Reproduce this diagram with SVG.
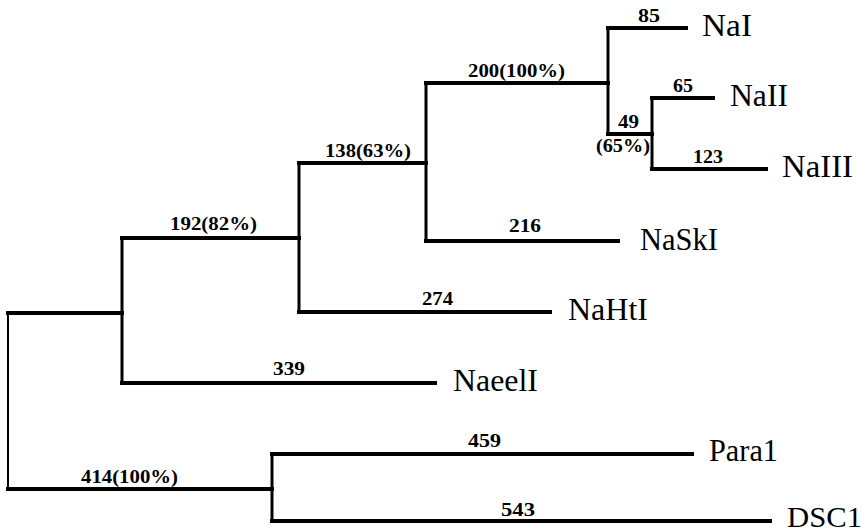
<svg xmlns="http://www.w3.org/2000/svg" width="867" height="532" viewBox="0 0 867 532">
<style>
.br{fill:none;stroke:#000;stroke-width:4;stroke-linecap:square}
.v{fill:none;stroke:#000;stroke-width:3}
.lbl{font-family:"Liberation Serif","Times New Roman",serif;font-size:19px;fill:#000;font-weight:bold}
.tx{font-family:"Liberation Serif","Times New Roman",serif;font-size:31px;fill:#000}
</style>
<rect width="867" height="532" fill="#fff"/>
<g id="connectors">
<path class="v" d="M8,313 V489" style="stroke-width:2"/>
<path class="br" d="M8,313 H122"/>
<path class="br" d="M8,489 H272"/>
<path class="v" d="M272,454 V522"/>
<path class="br" d="M272,454 H692"/>
<path class="br" d="M272,521 H770"/>
<path class="v" d="M122,238 V383"/>
<path class="br" d="M122,383 H435"/>
<path class="br" d="M122,238 H299"/>
<path class="v" d="M299,163 V312"/>
<path class="br" d="M299,312 H550"/>
<path class="br" d="M299,163 H426"/>
<path class="v" d="M426,83 V241"/>
<path class="br" d="M426,241 H618"/>
<path class="br" d="M426,83 H608"/>
<path class="v" d="M608,28 V134"/>
<path class="br" d="M608,28 H686"/>
<path class="br" d="M608,134 H652"/>
<path class="v" d="M652,98 V169"/>
<path class="br" d="M652,98 H713"/>
<path class="br" d="M652,169 H766"/>
</g>
<g id="branch-labels">
<text class="lbl" x="638" y="22" textLength="22" lengthAdjust="spacingAndGlyphs">85</text>
<text class="lbl" x="468" y="77" textLength="97" lengthAdjust="spacingAndGlyphs">200(100%)</text>
<text class="lbl" x="673" y="92" textLength="20" lengthAdjust="spacingAndGlyphs">65</text>
<text class="lbl" x="618" y="128" textLength="21" lengthAdjust="spacingAndGlyphs">49</text>
<text class="lbl" x="596" y="152" textLength="54" lengthAdjust="spacingAndGlyphs">(65%)</text>
<text class="lbl" x="693" y="163" textLength="30" lengthAdjust="spacingAndGlyphs">123</text>
<text class="lbl" x="325" y="157" textLength="86" lengthAdjust="spacingAndGlyphs">138(63%)</text>
<text class="lbl" x="170" y="230" textLength="87" lengthAdjust="spacingAndGlyphs">192(82%)</text>
<text class="lbl" x="509" y="232" textLength="32" lengthAdjust="spacingAndGlyphs">216</text>
<text class="lbl" x="422" y="305" textLength="31" lengthAdjust="spacingAndGlyphs">274</text>
<text class="lbl" x="273" y="375" textLength="32" lengthAdjust="spacingAndGlyphs">339</text>
<text class="lbl" x="81" y="483" textLength="97" lengthAdjust="spacingAndGlyphs">414(100%)</text>
<text class="lbl" x="468" y="447" textLength="33" lengthAdjust="spacingAndGlyphs">459</text>
<text class="lbl" x="501" y="516" textLength="34" lengthAdjust="spacingAndGlyphs">543</text>
</g>
<g id="NaI"><text class="tx" x="702" y="36" textLength="50" lengthAdjust="spacingAndGlyphs">NaI</text></g>
<g id="NaII"><text class="tx" x="730" y="106" textLength="58" lengthAdjust="spacingAndGlyphs">NaII</text></g>
<g id="NaIII"><text class="tx" x="782" y="177" textLength="71" lengthAdjust="spacingAndGlyphs">NaIII</text></g>
<g id="NaSkI"><text class="tx" x="640" y="250" textLength="78" lengthAdjust="spacingAndGlyphs">NaSkI</text></g>
<g id="NaHtI"><text class="tx" x="568" y="320" textLength="80" lengthAdjust="spacingAndGlyphs">NaHtI</text></g>
<g id="NaeelI"><text class="tx" x="453" y="391" textLength="85" lengthAdjust="spacingAndGlyphs">NaeelI</text></g>
<g id="Para1"><text class="tx" x="709" y="461" textLength="69" lengthAdjust="spacingAndGlyphs">Para1</text></g>
<g id="DSC1"><text class="tx" x="787" y="527" style="font-size:30px" textLength="75" lengthAdjust="spacingAndGlyphs">DSC1</text></g>
</svg>
